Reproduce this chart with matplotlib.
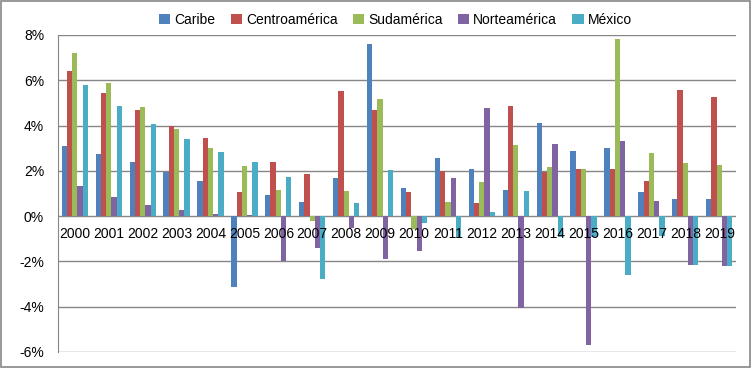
import numpy as np
import matplotlib.pyplot as plt
from matplotlib.patches import Rectangle
from matplotlib.ticker import FuncFormatter

years = [str(y) for y in range(2000, 2020)]
series_names = ['Caribe', 'Centroamérica', 'Sudamérica', 'Norteamérica', 'México']
colors = ['#4F81BD', '#C0504D', '#9BBB59', '#8064A2', '#4BACC6']

caribe = [3.09, 2.75, 2.38, 1.97, 1.55, -3.13, 0.93, 0.62, 1.69, 7.62,
          1.24, 2.55, 2.06, 1.15, 4.12, 2.88, 2.99, 1.05, 0.74, 0.74]
centro = [6.40, 5.44, 4.67, 3.99, 3.43, 1.07, 2.38, 1.88, 5.52, 4.69,
          1.07, 2.00, 0.60, 4.86, 1.94, 2.08, 2.06, 1.53, 5.59, 5.28]
sud = [7.20, 5.89, 4.80, 3.83, 2.99, 2.21, 1.16, -0.21, 1.12, 5.17,
       -0.55, 0.63, 1.50, 3.13, 2.18, 2.10, 7.81, 2.78, 2.33, 2.25]
norte = [1.32, 0.85, 0.50, 0.25, 0.09, 0.03, -1.96, -1.41, -0.54, -1.88,
         -1.52, 1.69, 4.78, -4.05, 3.18, -5.68, 3.31, 0.68, -2.18, -2.22]
mexico = [5.78, 4.86, 4.09, 3.41, 2.84, 2.37, 1.71, -2.77, 0.57, 2.03,
          -0.32, -0.92, 0.18, 1.12, -0.90, -0.92, -2.62, -0.88, -2.15, -2.19]

data = [caribe, centro, sud, norte, mexico]

fig = plt.figure(figsize=(7.52, 3.68), dpi=100)
ax = fig.add_axes([0.077, 0.0435, 0.902, 0.8615])

x = np.arange(len(years))
w = 0.155
for i, (name, vals) in enumerate(zip(series_names, data)):
    ax.bar(x + (i - 2) * w, vals, width=w, color=colors[i], label=name, zorder=2)

ax.set_xlim(-0.5, len(years) - 0.5)
ax.set_ylim(-6, 8)
ax.set_yticks(np.arange(-6, 9, 2))
ax.yaxis.set_major_formatter(FuncFormatter(lambda v, p: f'{v:.0f}%'))
ax.set_axisbelow(True)
ax.grid(axis='y', color='#868686', linewidth=1)
# year labels sit on top of the bars, like in the original
ax.xaxis.set_zorder(4)

ax.set_xticks(x)
ax.set_xticklabels(years)
ax.spines['bottom'].set_position(('data', 0))
ax.spines['bottom'].set_visible(False)
ax.spines['top'].set_visible(False)
ax.spines['right'].set_visible(False)
ax.spines['left'].set_color('#868686')
ax.tick_params(axis='x', length=0, pad=8, labelsize=10)
ax.tick_params(axis='y', length=0, pad=10, labelsize=10)
for lab in ax.get_xticklabels() + ax.get_yticklabels():
    lab.set_fontfamily('Liberation Sans')

leg = fig.legend(loc='center', bbox_to_anchor=(0.526, 0.946), ncol=5, frameon=False,
                 handlelength=0.8, handleheight=0.8, handletextpad=0.3,
                 columnspacing=1.1, prop={'family': 'Liberation Sans', 'size': 10})

fig.patches.append(Rectangle((0.001, 0.002), 0.997, 0.995, transform=fig.transFigure,
                             fill=False, edgecolor='#868686', linewidth=1.2))

fig.savefig('out.png', dpi=100)
